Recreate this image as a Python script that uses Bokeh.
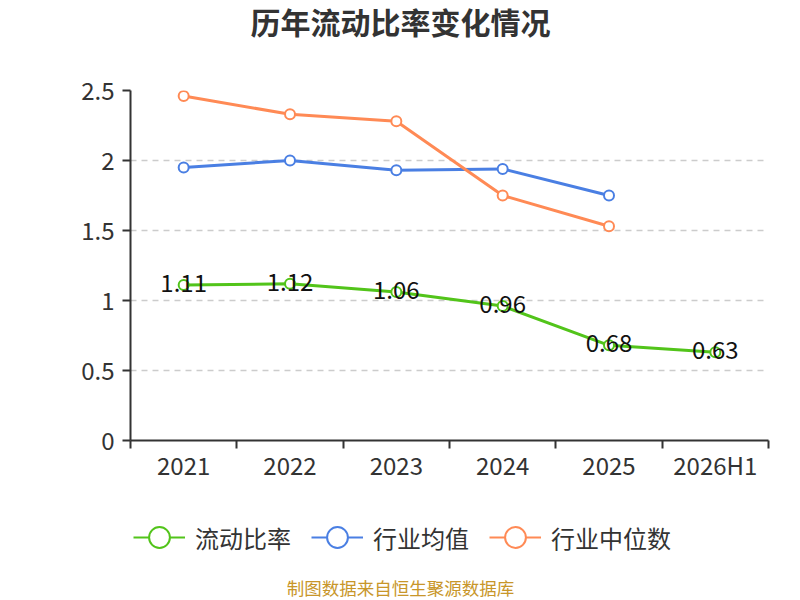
from bokeh.plotting import figure
from bokeh.layouts import column
from bokeh.models import (ColumnDataSource, FixedTicker, Range1d, Legend, LegendItem, Label)
from bokeh.core.properties import value
from bokeh.embed import file_html
from bokeh.resources import INLINE

categories = ["2021", "2022", "2023", "2024", "2025", "2026H1"]
current_ratio = [1.11, 1.12, 1.06, 0.96, 0.68, 0.63]
industry_mean = [1.95, 2.0, 1.93, 1.94, 1.75]
industry_median = [2.46, 2.33, 2.28, 1.75, 1.53]
y_ticks = [0, 0.5, 1, 1.5, 2, 2.5]
y_tick_labels = ["0", "0.5", "1", "1.5", "2", "2.5"]
title_text = "历年流动比率变化情况"
footer_text = "制图数据来自恒生聚源数据库"

GREEN = "#52c41a"
BLUE = "#4a7fe3"
ORANGE = "#ff8a55"
FONT = "Noto Sans CJK SC"

xpos = [i + 0.5 for i in range(len(categories))]


def blank(h):
    f = figure(width=800, height=h, output_backend="svg", toolbar_location=None,
               x_range=Range1d(0, 1), y_range=Range1d(0, 1),
               x_axis_type=None, y_axis_type=None, min_border=0)
    f.outline_line_color = None
    f.grid.visible = False
    f.background_fill_color = "white"
    f.border_fill_color = "white"
    return f


# header with title (frame is aligned with the main chart's frame, left at 130px)
head = blank(60)
head.add_layout(Label(x=270, y=40, x_units="screen", y_units="screen", text=title_text,
                      text_align="center", text_baseline="middle", text_font=FONT,
                      text_font_size="30px", text_font_style="bold", text_color="#333333"))

# main chart
p = figure(width=800, height=460, output_backend="svg", toolbar_location=None,
           x_range=Range1d(0, len(categories)), y_range=Range1d(0, 2.5),
           min_border_left=130, min_border_right=32, min_border_top=30,
           min_border_bottom=80)
p.outline_line_color = None
p.background_fill_color = "white"
p.border_fill_color = "white"

p.xaxis.ticker = FixedTicker(ticks=xpos, minor_ticks=list(range(len(categories) + 1)))
p.xaxis.major_label_overrides = {x: c for x, c in zip(xpos, categories)}
p.xaxis.major_tick_out = 0
p.xaxis.major_tick_in = 0
p.xaxis.minor_tick_out = 8
p.xaxis.minor_tick_in = 0
p.xaxis.minor_tick_line_color = "#333333"
p.xaxis.minor_tick_line_width = 2
p.xaxis.axis_line_color = "#333333"
p.xaxis.axis_line_width = 2
p.xaxis.major_label_text_font = FONT
p.xaxis.major_label_text_font_size = "24px"
p.xaxis.major_label_text_color = "#333333"
p.xaxis.major_label_standoff = -2

p.yaxis.ticker = FixedTicker(ticks=y_ticks)
p.yaxis.major_label_overrides = {t: l for t, l in zip(y_ticks, y_tick_labels)}
p.yaxis.minor_tick_line_color = None
p.yaxis.major_tick_out = 8
p.yaxis.major_tick_in = 0
p.yaxis.major_tick_line_color = "#333333"
p.yaxis.major_tick_line_width = 2
p.yaxis.axis_line_color = "#333333"
p.yaxis.axis_line_width = 2
p.yaxis.major_label_text_font = FONT
p.yaxis.major_label_text_font_size = "24px"
p.yaxis.major_label_text_color = "#333333"
p.yaxis.major_label_standoff = 8

p.xgrid.grid_line_color = None
p.ygrid.ticker = FixedTicker(ticks=y_ticks[1:])
p.ygrid.grid_line_color = "#cccccc"
p.ygrid.grid_line_width = 1.5
p.ygrid.grid_line_dash = "6 5"

# footer area with legend and source note
foot = blank(80)

series = [
    ("流动比率", current_ratio, GREEN),
    ("行业均值", industry_mean, BLUE),
    ("行业中位数", industry_median, ORANGE),
]
items = []
for name, vals, col in series:
    src = ColumnDataSource(dict(x=xpos[:len(vals)], y=vals))
    p.line("x", "y", source=src, line_color=col, line_width=3)
    p.scatter("x", "y", source=src, size=10, marker="circle", fill_color="white",
              line_color=col, line_width=2)
    # legend swatches (renderers hidden, only drawn inside the legend)
    lr = foot.line("x", "y", source=src, line_color=col, line_width=2, visible=False)
    sr = foot.scatter("x", "y", source=src, marker="circle", fill_color="white",
                      line_color=col, line_width=2, visible=False)
    items.append(LegendItem(label=name, renderers=[lr, sr]))

lab_src = ColumnDataSource(dict(x=xpos, y=current_ratio,
                                t=[f"{v:.2f}" for v in current_ratio]))
p.text("x", "y", text="t", source=lab_src, text_align="center", text_baseline="middle",
       text_font=value(FONT), text_font_size="24px", text_color="#111111", y_offset=-2)

legend = Legend(items=items, orientation="horizontal", location=(3, 35),
                glyph_width=52, glyph_height=56, label_standoff=10, spacing=20,
                padding=0, margin=0, border_line_color=None, background_fill_alpha=0,
                label_text_font=FONT, label_text_font_size="24px",
                label_text_color="#333333")
foot.add_layout(legend, "center")
foot.add_layout(Label(x=270, y=13, x_units="screen", y_units="screen", text=footer_text,
                      text_align="center", text_baseline="middle", text_font=FONT,
                      text_font_size="17.5px", text_color="#c8962a"))

layout = column(head, p, foot, spacing=0)
open("out.html", "w").write(file_html(layout, INLINE))
